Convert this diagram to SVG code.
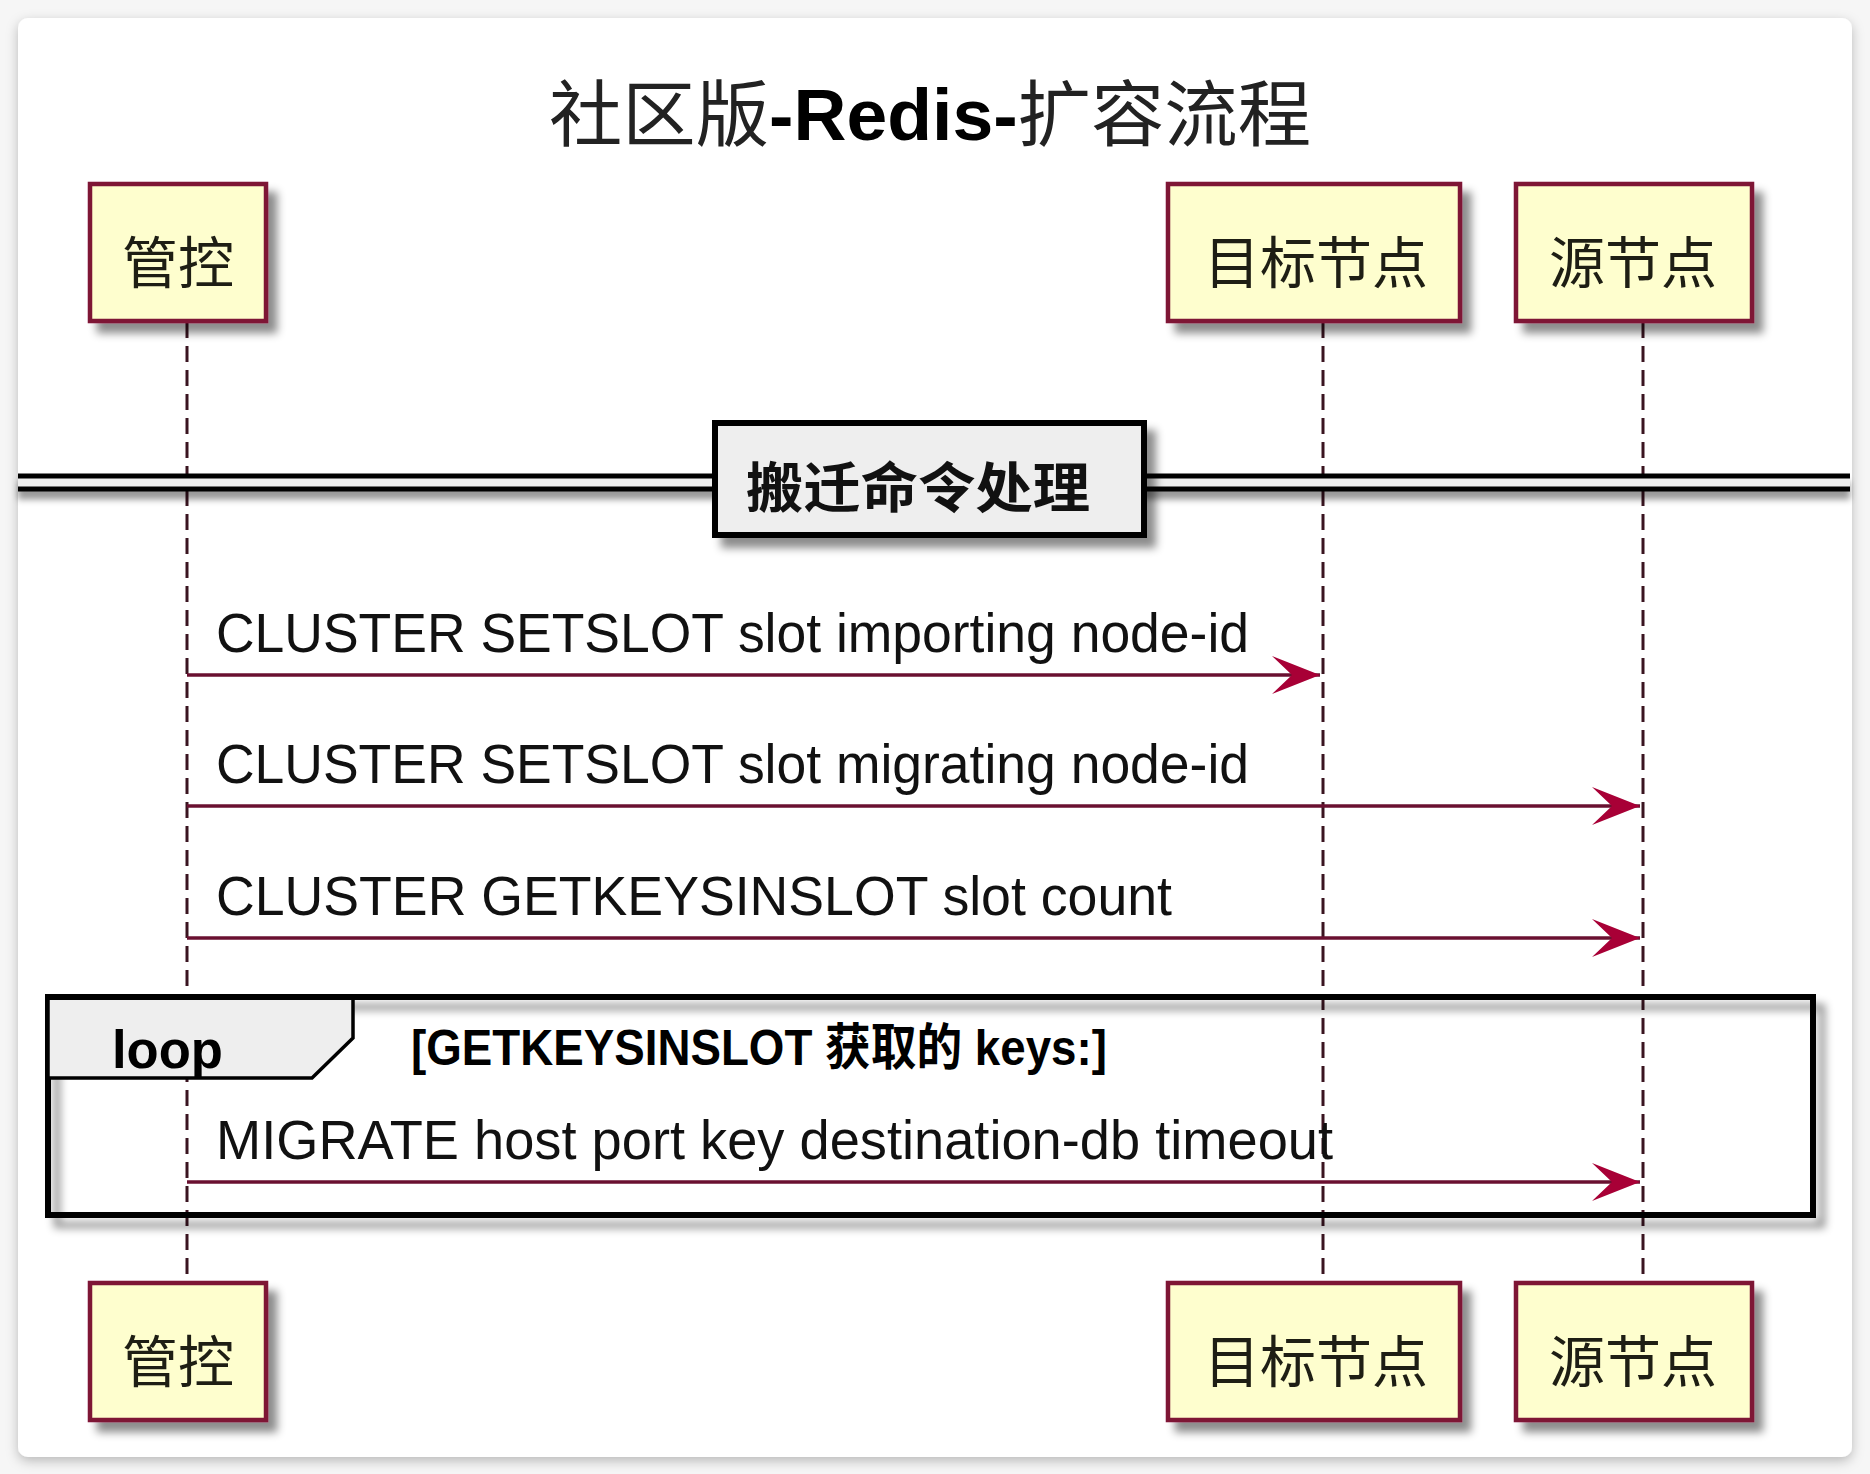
<svg xmlns="http://www.w3.org/2000/svg" width="1870" height="1474" viewBox="0 0 1870 1474">
<defs>
  <filter id="cardShadow" x="-5%" y="-5%" width="110%" height="110%">
    <feDropShadow dx="0" dy="4" stdDeviation="6" flood-color="#000" flood-opacity="0.25"/>
  </filter>
  <filter id="shadow" x="-20%" y="-20%" width="150%" height="150%">
    <feDropShadow dx="9" dy="10" stdDeviation="4" flood-color="#000" flood-opacity="0.45"/>
  </filter>
  <filter id="lineShadow" x="-1%" y="-100%" width="102%" height="400%">
    <feDropShadow dx="0" dy="8" stdDeviation="3" flood-color="#000" flood-opacity="0.4"/>
  </filter>
  <marker id="arrowhead" markerUnits="userSpaceOnUse" viewBox="0 0 48 38" refX="48" refY="19" markerWidth="48" markerHeight="38" orient="auto">
    <polygon points="48,19 0,0 20,19 0,38" fill="#A80036"/>
  </marker>
  <style>
    .cjk { font-family: "Noto Sans CJK SC", "Liberation Sans", sans-serif; }
    .part rect { fill: #FEFECE; stroke: #7e1634; stroke-width: 4.5; }
    .part text { font-family: "Noto Sans CJK SC", sans-serif; font-size: 56px; fill: #1e1e14; text-anchor: middle; }
    .life { stroke: #3a1420; stroke-width: 3; stroke-dasharray: 16 8; fill: none; }
    .msg { stroke: #6a1030; stroke-width: 3.5; fill: none; marker-end: url(#arrowhead); }
    .msgtext { font-family: "Liberation Sans", Arial, sans-serif; font-size: 56px; fill: #111; }
  </style>
</defs>

<rect x="0" y="0" width="1870" height="1474" fill="#f6f6f6"/>
<rect id="card" x="18" y="18" width="1834" height="1439" rx="10" fill="#ffffff" filter="url(#cardShadow)"/>

<g id="title">
  <text x="549" y="140" font-size="72" fill="#222" textLength="762" lengthAdjust="spacingAndGlyphs" class="cjk">社区版<tspan font-family="Liberation Sans, Arial, sans-serif" font-weight="bold" fill="#000">-Redis-</tspan>扩容流程</text>
</g>

<g id="lifelines">
  <line class="life" x1="187" y1="322" x2="187" y2="1283"/>
  <line class="life" x1="1323" y1="322" x2="1323" y2="1283"/>
  <line class="life" x1="1643" y1="322" x2="1643" y2="1283"/>
</g>

<g id="participant-guankong-top" class="part">
  <rect x="90" y="184" width="176" height="137" filter="url(#shadow)"/>
  <text x="178" y="283">管控</text>
</g>
<g id="participant-target-top" class="part">
  <rect x="1168" y="184" width="292" height="137" filter="url(#shadow)"/>
  <text x="1316" y="283">目标节点</text>
</g>
<g id="participant-source-top" class="part">
  <rect x="1516" y="184" width="236" height="137" filter="url(#shadow)"/>
  <text x="1633" y="283">源节点</text>
</g>

<g id="divider">
  <g filter="url(#lineShadow)">
    <rect x="18" y="476" width="1832" height="12" fill="#EEEEEE"/>
    <line x1="18" y1="476" x2="1850" y2="476" stroke="#000" stroke-width="5"/>
    <line x1="18" y1="489" x2="1850" y2="489" stroke="#000" stroke-width="5"/>
  </g>
  <rect x="715" y="423" width="429" height="112" fill="#EEEEEE" stroke="#000" stroke-width="6" filter="url(#shadow)"/>
  <text x="918" y="508" class="cjk" font-size="54" font-weight="bold" fill="#111" text-anchor="middle" textLength="344" lengthAdjust="spacingAndGlyphs">搬迁命令处理</text>
</g>

<g id="loop">
  <rect x="48" y="997" width="1765" height="218" fill="none" stroke="#000" stroke-width="6" filter="url(#shadow)"/>
  <polygon points="48,997 353,997 353,1038 312,1078 48,1078" fill="#EEEEEE" stroke="#000" stroke-width="3.5"/>
  <rect x="45" y="994" width="1771" height="6" fill="#000"/>
  <text x="112" y="1068" font-family="Liberation Sans, Arial, sans-serif" font-size="54" font-weight="bold" fill="#000" textLength="111" lengthAdjust="spacingAndGlyphs">loop</text>
  <text x="411" y="1065" font-family="Liberation Sans, 'Noto Sans CJK SC', sans-serif" font-size="50" font-weight="bold" fill="#000" textLength="696" lengthAdjust="spacingAndGlyphs">[GETKEYSINSLOT 获取的 keys:]</text>
</g>

<g id="connectors">
  <line class="msg" x1="187" y1="675" x2="1320" y2="675"/>
  <text class="msgtext" x="216" y="652" textLength="1033" lengthAdjust="spacingAndGlyphs">CLUSTER SETSLOT slot importing node-id</text>
  <line class="msg" x1="187" y1="806" x2="1640" y2="806"/>
  <text class="msgtext" x="216" y="783" textLength="1033" lengthAdjust="spacingAndGlyphs">CLUSTER SETSLOT slot migrating node-id</text>
  <line class="msg" x1="187" y1="938" x2="1640" y2="938"/>
  <text class="msgtext" x="216" y="915" textLength="956" lengthAdjust="spacingAndGlyphs">CLUSTER GETKEYSINSLOT slot count</text>
  <line class="msg" x1="187" y1="1182" x2="1640" y2="1182"/>
  <text class="msgtext" x="216" y="1159" textLength="1117" lengthAdjust="spacingAndGlyphs">MIGRATE host port key destination-db timeout</text>
</g>

<g id="participant-guankong-bottom" class="part">
  <rect x="90" y="1283" width="176" height="137" filter="url(#shadow)"/>
  <text x="178" y="1382">管控</text>
</g>
<g id="participant-target-bottom" class="part">
  <rect x="1168" y="1283" width="292" height="137" filter="url(#shadow)"/>
  <text x="1316" y="1382">目标节点</text>
</g>
<g id="participant-source-bottom" class="part">
  <rect x="1516" y="1283" width="236" height="137" filter="url(#shadow)"/>
  <text x="1633" y="1382">源节点</text>
</g>
</svg>
